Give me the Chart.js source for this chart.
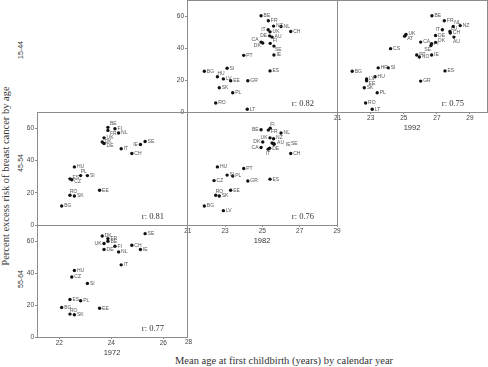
<!DOCTYPE html>
<html><head><meta charset="utf-8">
<script src="https://cdn.jsdelivr.net/npm/chart.js@4/dist/chart.umd.min.js"></script>
<style>
html,body{margin:0;padding:0;background:#fff;}
body{width:488px;height:367px;overflow:hidden;position:relative;}
canvas{position:absolute;}
.t{position:absolute;white-space:nowrap;color:#333;transform:translate(-50%,-50%);}
.rot{transform:translate(-50%,-50%) rotate(-90deg);}
</style></head><body>
<div class="t rot" style="left:5px;top:176px;font:10.5px 'Liberation Serif',serif;">Percent excess risk of breast cancer by age</div>
<div class="t rot" style="left:20px;top:50px;font:7px 'Liberation Sans',sans-serif;">15-44</div>
<div class="t rot" style="left:20px;top:163px;font:7px 'Liberation Sans',sans-serif;">45-54</div>
<div class="t rot" style="left:20px;top:279px;font:7px 'Liberation Sans',sans-serif;">55-64</div>
<div class="t" style="left:175px;top:360px;transform:translate(0,-50%);font:10.5px 'Liberation Serif',serif;">Mean age at first childbirth (years) by calendar year</div>
<script>
// ---- data ----
const yTicks = [0, 20, 40, 60];
const xTicks1972 = [22, 24, 26];
const xTicks1982 = [21, 23, 25, 27, 29];
const xTicks1992 = [21, 23, 25, 27, 29];
const rValues = [0.82, 0.75, 0.81, 0.76, 0.77];

// 1982, ages 15-44
const codes82a = ['BE','FR','NZ','NL','CH','IT','UK','DE','AU','CA','DK','FI','SE','IE','PT','SI','BG','ES','HU','LV','EE','GR','SK','PL','RO','LT'];
const age82a   = [24.93,25.32,25.6,26.0,26.52,25.31,25.41,25.39,25.52,24.93,25.02,25.42,25.62,25.62,24.0,23.11,21.89,25.41,22.59,22.91,23.3,24.22,22.69,23.41,22.5,24.19];
const risk82a  = [60.2,57.0,53.7,53.4,50.3,51.4,50.1,47.6,46.8,43.7,43.1,42.9,41.2,35.6,35.4,27.3,25.5,25.7,22.0,20.7,19.5,19.5,15.2,12.0,5.6,1.7];

// 1992, ages 15-44
const codes92a = ['BE','FR','NL','NZ','IT','LU','CH','AU','UK','AT','CA','DE','DK','FI','SE','CS','PT','NO','IE','BG','HR','SI','HU','LV','EE','ES','GR','SK','PL','RO','LT'];
const age92a   = [26.7,27.45,27.99,28.41,27.33,27.79,27.81,28.03,25.13,25.05,26.02,26.92,26.92,26.68,26.64,24.2,25.78,25.94,26.68,21.88,23.45,24.06,23.26,22.75,22.75,27.49,26.02,22.61,23.39,22.69,23.09];
const risk92a  = [60.2,57.0,53.4,54.0,51.4,50.3,49.3,46.8,48.4,47.4,43.7,47.8,43.5,42.7,41.6,39.6,35.6,34.4,35.6,25.5,27.6,27.6,22.0,20.7,19.5,25.7,19.3,15.2,12.0,5.6,1.7];

// 1972, ages 45-54
const codes72b = ['BE','FI','FR','NL','UK','DK','DE','IE','SE','IT','CH','HU','PL','SI','ES','CZ','EE','RO','SK','BG'];
const age72b   = [23.87,24.14,23.87,24.28,23.72,23.65,23.72,25.12,25.3,24.38,24.79,22.58,22.82,23.08,22.41,22.48,23.55,22.41,22.58,22.09];
const risk72b  = [60.5,59.6,58.6,57.0,54.0,51.4,50.5,49.9,51.7,47.2,44.3,36.0,30.6,30.6,28.6,28.0,21.5,18.4,18.0,11.8];

// 1982, ages 45-54
const codes82b = ['FI','BE','FR','NL','UK','NZ','DK','AU','IE','SE','CA','DE','IT','CH','HU','PT','SI','PL','CZ','GR','ES','EE','RO','SK','BG','LV'];
const age82b   = [25.42,24.93,25.32,26.0,25.41,25.6,25.02,25.52,25.62,25.62,24.93,25.39,25.31,26.52,22.59,24.0,23.11,23.41,22.41,24.22,25.41,23.3,22.5,22.69,21.89,22.91];
const risk82b  = [60.0,59.0,58.8,57.0,54.0,53.4,51.4,50.8,50.0,50.4,48.0,47.6,47.0,44.3,36.0,35.0,30.9,30.4,27.5,27.3,28.4,21.5,18.4,18.0,11.8,8.9];

// 1972, ages 55-64
const codes72c = ['SE','DK','FR','BE','UK','FI','CH','DE','NL','IE','IT','HU','CZ','SI','ES','PL','BG','EE','RO','SK'];
const age72c   = [25.3,23.65,23.87,23.87,23.72,24.14,24.79,23.72,24.28,25.12,24.38,22.58,22.48,23.08,22.41,22.82,22.09,23.55,22.41,22.58];
const risk72c  = [64.6,63.1,61.5,59.8,58.4,56.7,57.3,54.7,53.2,54.7,45.1,41.6,37.5,33.5,23.4,22.7,18.4,18.0,14.3,13.9];

// ---- label placement (style) ----
const nudges = {
  A:{IT:[-2.5,0,'right'],DE:[-2.5,0,'right'],CA:[-2.5,-2,'right'],DK:[-2,2.5,'right'],FI:[2.5,-2.5,'left'],SE:[1,4,'left'],HU:[0,-3.5,'left']},
  B:{NL:[1,-3.5,'left'],LU:[1,-3,'left'],AU:[-1,4.5,'left'],IT:[-2.5,0,'right'],AT:[2.5,2,'left'],DK:[2.5,-2,'left'],SE:[0,4.5,'right'],EE:[2,2.5,'left'],UK:[2.5,-1,'left']},
  C:{BE:[2,-3.5,'left'],FR:[2,3.5,'left'],DE:[2.5,2,'left'],IE:[-2.5,0,'right'],PL:[0,-3.5,'left'],RO:[0,-3.5,'left'],ES:[2.5,-1,'left'],CZ:[2.5,1.5,'left']},
  D:{FI:[0,-3.5,'left'],BE:[-2.5,0,'right'],FR:[2.5,2,'left'],UK:[-2.5,0,'right'],DK:[-2.5,0,'right'],AU:[5,0,'left'],IE:[12,0,'left'],SE:[17,0,'left'],CA:[-2.5,0,'right'],IT:[0,4,'center'],RO:[0,-3.5,'left'],NZ:[2.5,-1,'left']},
  E:{UK:[-2.5,0,'right'],RO:[0,-3.5,'left'],ES:[2.5,0,'left']}
};

Chart.defaults.font.family = "'Liberation Sans', Arial, sans-serif";

const decor = {
  id:'decor',
  beforeDatasetsDraw(chart, args, o){
    const {ctx, chartArea:a} = chart;
    ctx.save();
    ctx.strokeStyle = '#8c8c8c'; ctx.lineWidth = 1;
    ctx.strokeRect(a.left+0.5, a.top+0.5, a.right-a.left, a.bottom-a.top);
    ctx.restore();
  },
  afterDatasetsDraw(chart, args, o){
    const {ctx, chartArea:a} = chart;
    const meta = chart.getDatasetMeta(0);
    ctx.save();
    ctx.font = "5px 'Liberation Sans', Arial, sans-serif";
    ctx.fillStyle = '#555'; ctx.textBaseline = 'middle';
    meta.data.forEach((el, i) => {
      const code = o.codes[i];
      const n = (o.nudge && o.nudge[code]) || [2.5, 0, 'left'];
      ctx.textAlign = n[2];
      ctx.fillText(code, el.x + n[0], el.y + n[1]);
    });
    ctx.font = "8.5px 'Liberation Serif', serif";
    ctx.fillStyle = '#333'; ctx.textAlign = 'right';
    ctx.fillText('r: ' + o.r.toFixed(2), a.right - 23, a.bottom - 8);
    if (o.extraTick) {
      ctx.font = "6.5px 'Liberation Sans', Arial, sans-serif";
      ctx.fillStyle = '#444'; ctx.textAlign = 'center'; ctx.textBaseline = 'top';
      ctx.fillText(o.extraTick, a.right + 1.5, a.bottom + 2);
    }
    ctx.restore();
  }
};

function makePanel(p){
  const ML = p.yLabels ? 36 : 4, MT = 3, MR = 10, MB = p.year ? 20 : 4;
  const W = p.r - p.l, H = p.b - p.t;
  const cv = document.createElement('canvas');
  cv.width = W + ML + MR; cv.height = H + MT + MB;
  cv.style.left = (p.l - ML) + 'px'; cv.style.top = (p.t - MT) + 'px';
  cv.style.width = cv.width + 'px'; cv.style.height = cv.height + 'px';
  document.body.appendChild(cv);
  const pts = p.age.map((v, i) => ({x: v, y: p.risk[i]}));
  new Chart(cv, {
    type: 'scatter',
    data: {datasets: [{data: pts, pointRadius: 1.7, pointHoverRadius: 1.7, backgroundColor: '#111', borderWidth: 0}]},
    options: {
      responsive: false, animation: false, events: [],
      layout: {padding: {left: 0, top: MT, right: MR, bottom: 0}, autoPadding: false},
      plugins: {legend: {display: false}, tooltip: {enabled: false},
        decor: {codes: p.codes, nudge: p.nudge, r: p.rv, extraTick: p.extraTick}},
      scales: {
        x: {type: 'linear', position: 'bottom', min: p.xmin, max: p.xmax,
          afterBuildTicks: s => { s.ticks = (p.xTicks || []).map(v => ({value: v})); },
          afterFit: s => { s.height = MB; s.paddingLeft = 0; s.paddingRight = 0; s.paddingTop = 0; s.paddingBottom = 0; },
          grid: {display: !!p.xTicks, drawOnChartArea: false, drawTicks: true, tickLength: 2, color: '#8c8c8c'},
          border: {display: false},
          ticks: {display: !!p.xTicks, font: {size: 6.5}, color: '#444', padding: 0, maxRotation: 0, autoSkip: false},
          title: {display: !!p.year, text: p.year || '', font: {size: 7.5}, color: '#333', padding: {top: 0, bottom: 0}}
        },
        y: {type: 'linear', position: 'left', min: 0, max: 70,
          afterBuildTicks: s => { s.ticks = p.yLabels ? yTicks.map(v => ({value: v})) : []; },
          afterFit: s => { s.width = ML; s.paddingTop = 0; s.paddingBottom = 0; s.paddingLeft = 0; s.paddingRight = 0; },
          grid: {display: !!p.yLabels, drawOnChartArea: false, drawTicks: true, tickLength: 2, color: '#8c8c8c'},
          border: {display: false},
          ticks: {display: !!p.yLabels, font: {size: 6.5}, color: '#444', padding: 1}
        }
      }
    },
    plugins: [decor]
  });
}

// panel rectangles (chart areas)
makePanel({l:187, t:0, r:337, b:112, xmin:20.96, xmax:29.0, codes:codes82a, age:age82a, risk:risk82a, nudge:nudges.A, rv:rValues[0], yLabels:true});
makePanel({l:337, t:0, r:487, b:112, xmin:20.96, xmax:30.03, xTicks:xTicks1992, year:'1992', codes:codes92a, age:age92a, risk:risk92a, nudge:nudges.B, rv:rValues[1]});
makePanel({l:37, t:112, r:187, b:225, xmin:21.142, xmax:26.911, codes:codes72b, age:age72b, risk:risk72b, nudge:nudges.C, rv:rValues[2], yLabels:true});
makePanel({l:187, t:112, r:337, b:225, xmin:20.96, xmax:29.0, xTicks:xTicks1982, year:'1982', codes:codes82b, age:age82b, risk:risk82b, nudge:nudges.D, rv:rValues[3]});
makePanel({l:37, t:225, r:187, b:337, xmin:21.142, xmax:26.911, xTicks:xTicks1972, year:'1972', extraTick:'28', codes:codes72c, age:age72c, risk:risk72c, nudge:nudges.E, rv:rValues[4], yLabels:true});
</script>
</body></html>
